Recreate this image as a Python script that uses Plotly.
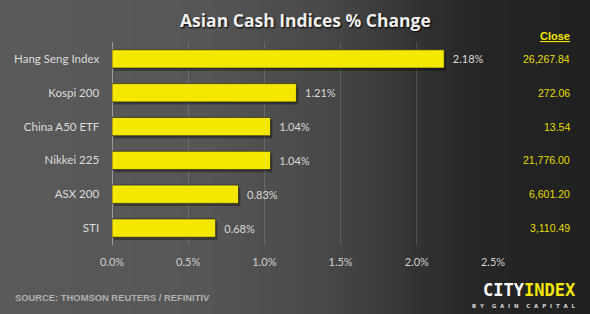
import plotly.graph_objects as go

categories = ["Hang Seng Index", "Kospi 200", "China A50 ETF", "Nikkei 225", "ASX 200", "STI"]
pct_change = [2.18, 1.21, 1.04, 1.04, 0.83, 0.68]
close_values = ["26,267.84", "272.06", "13.54", "21,776.00", "6,601.20", "3,110.49"]
tick_vals = [0, 0.5, 1.0, 1.5, 2.0, 2.5]
tick_text = ["0.0%", "0.5%", "1.0%", "1.5%", "2.0%", "2.5%"]

W, H = 590, 314
L, R, T, B = 112, 97, 42, 69
pw = W - L - R
ph = H - T - B

def px2paper_x(px):
    return (px - L) / pw

def px2paper_y(py):
    return (H - B - py) / ph

BAR_W = 0.54
fig = go.Figure()
# drop shadow
fig.add_trace(go.Bar(
    y=categories, x=pct_change, orientation="h", base=0.012,
    width=BAR_W, offset=-BAR_W / 2 - 0.08,
    marker=dict(color="rgba(0,0,0,0.35)", line=dict(width=0)),
    hoverinfo="skip",
))
fig.add_trace(go.Bar(
    y=categories, x=pct_change, orientation="h",
    width=BAR_W, offset=-BAR_W / 2,
    marker=dict(color="#f5e800", line=dict(color="rgba(20,20,20,0.6)", width=1)),
    text=[f"  {v:.2f}%" for v in pct_change], textposition="outside",
    textfont=dict(color="#d9d9d9", size=11, family="Lato"),
    cliponaxis=False, hoverinfo="skip",
))

# background gradient strips
stops = [(0.0, 90), (0.35, 86), (0.55, 72), (0.68, 55), (0.8, 38), (0.9, 34), (1.0, 33)]
def gray_at(t):
    for (t0, g0), (t1, g1) in zip(stops[:-1], stops[1:]):
        if t0 <= t <= t1:
            return g0 + (g1 - g0) * (t - t0) / (t1 - t0)
    return stops[-1][1]

shapes = []
N = 118
for i in range(N):
    x0 = W * i / N
    x1 = W * (i + 1) / N + 0.6
    g = int(round(gray_at((i + 0.5) / N)))
    shapes.append(dict(type="rect", xref="paper", yref="paper",
                       x0=px2paper_x(x0), x1=px2paper_x(x1),
                       y0=px2paper_y(H), y1=px2paper_y(0),
                       fillcolor=f"rgb({g},{g},{g})", line=dict(width=0), layer="below"))

annotations = []
annotations.append(dict(text="<u><b>Close</b></u>", xref="paper", yref="paper",
                        x=px2paper_x(572), y=px2paper_y(36), xanchor="right", yanchor="middle",
                        showarrow=False, font=dict(color="#f2e600", size=11, family="Liberation Sans")))
for cat, cv in zip(categories, close_values):
    annotations.append(dict(text=cv, xref="paper", yref="y", x=px2paper_x(572), y=cat,
                            xanchor="right", yanchor="middle", showarrow=False,
                            font=dict(color="#e6dd00", size=10.5, family="Liberation Sans")))
annotations.append(dict(text="Asian Cash Indices % Change", xref="paper", yref="paper",
                        x=px2paper_x(305), y=px2paper_y(20), xanchor="center", yanchor="middle",
                        showarrow=False,
                        font=dict(color="#f0f0f0", size=17.5, family="Open Sans", weight="bold",
                                  shadow="1px 1px 2px #000")))
annotations.append(dict(text="<b>SOURCE: THOMSON REUTERS / REFINITIV</b>", xref="paper", yref="paper",
                        x=px2paper_x(13), y=px2paper_y(297), xanchor="left", yanchor="middle",
                        showarrow=False,
                        font=dict(color="#b0b0b0", size=9.4, family="Liberation Sans")))
annotations.append(dict(text="<span style='color:#ffffff'>CITY</span><span style='color:#f5e800'>INDEX</span>",
                        xref="paper", yref="paper",
                        x=px2paper_x(578), y=px2paper_y(290), xanchor="right", yanchor="middle",
                        showarrow=False, font=dict(size=17, family="DejaVu Sans Mono", weight="bold")))
annotations.append(dict(text="B  Y    G  A  I  N    C  A  P  I  T  A  L", xref="paper", yref="paper",
                        x=px2paper_x(578), y=px2paper_y(306), xanchor="right", yanchor="middle",
                        showarrow=False, font=dict(color="#d0d0d0", size=5.5, family="DejaVu Sans", weight="bold")))

fig.update_layout(
    width=W, height=H,
    margin=dict(l=L, r=R, t=T, b=B),
    paper_bgcolor="#333333", plot_bgcolor="rgba(0,0,0,0)",
    showlegend=False, barmode="overlay",
    shapes=shapes, annotations=annotations,
    xaxis=dict(range=[0, 2.5], tickvals=tick_vals, ticktext=tick_text,
               showgrid=True, gridcolor="rgba(255,255,255,0.14)", gridwidth=1,
               zeroline=True, zerolinecolor="#9a9a9a", zerolinewidth=1,
               tickfont=dict(color="#d0d0d0", size=11, family="Lato"), ticks="",
               ticklabelstandoff=9, fixedrange=True),
    yaxis=dict(categoryorder="array", categoryarray=categories[::-1],
               tickfont=dict(color="#dcdcdc", size=11.5, family="Lato"), ticks="",
               ticksuffix="  ", ticklabelstandoff=6, showgrid=False, fixedrange=True),
)

fig.write_html("out.html")
